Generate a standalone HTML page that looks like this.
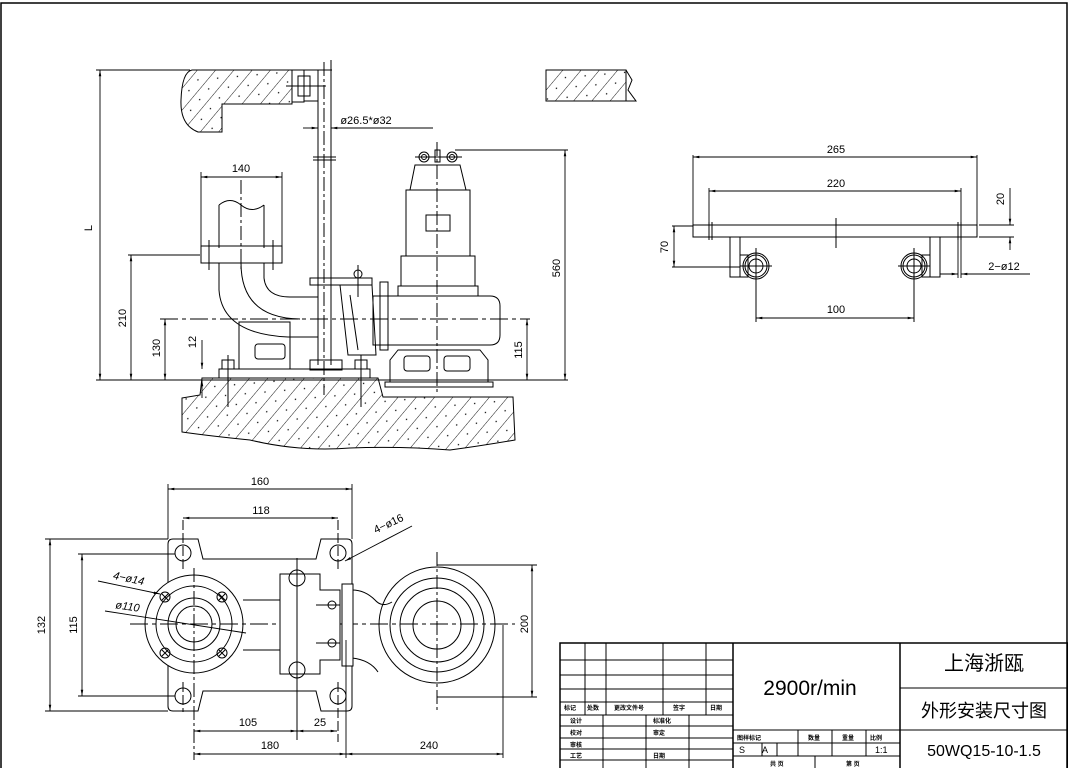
<!DOCTYPE html>
<html><head><meta charset="utf-8"><style>
html,body{margin:0;padding:0;background:#fff;}
svg{display:block;}
text{font-family:"Liberation Sans","Noto Sans CJK SC",sans-serif;fill:#000;}
</style></head><body>
<svg width="1068" height="768" viewBox="0 0 1068 768" xmlns="http://www.w3.org/2000/svg">
<defs>
<pattern id="h" width="14" height="14" patternUnits="userSpaceOnUse" patternTransform="rotate(40)">
<line x1="0" y1="0" x2="0" y2="14" stroke="#000" stroke-width="0.9"/>
<circle cx="7" cy="4" r="0.7" fill="#000"/>
</pattern>
<marker id="a" viewBox="0 0 10 10" refX="10" refY="5" markerWidth="7" markerHeight="7" orient="auto-start-reverse"><path d="M0,3 L10,5 L0,7 z" fill="#000"/></marker>
</defs>
<rect x="1" y="3" width="1066" height="770" fill="none" stroke="#000" stroke-width="1.5"/>
<g fill="none" stroke="#000" stroke-width="1">
<path d="M192,70 L292,70 L292,104 L222,104 L222,132 L198,132 Q180,125 181,100 Q182,72 192,70 Z" fill="url(#h)"/>
<rect x="546" y="70" width="80" height="31" fill="url(#h)"/>
<path d="M626,70 L632,80 L628,90 L636,101 L626,101"/>
<rect x="292" y="70" width="12" height="32"/>
<rect x="298" y="76" width="12" height="20"/>
<path d="M292,70 L332,70 M304,101 L318,101"/>
<line x1="286" y1="86" x2="326" y2="86"/>
<line x1="318" y1="70" x2="318" y2="365"/>
<line x1="331" y1="60" x2="331" y2="365"/>
<line x1="324" y1="62" x2="324" y2="395" stroke-dasharray="14,3,3,3"/>
<line x1="313" y1="157" x2="336" y2="157"/><line x1="313" y1="160" x2="336" y2="160"/>
<rect x="310" y="360" width="32" height="10"/>
<path d="M219,205 L219,248 M264,205 L264,248"/>
<path d="M219,205 Q230,196 241,205 Q252,214 264,205"/>
<line x1="241" y1="180" x2="241" y2="270" stroke-dasharray="14,3,3,3"/>
<rect x="201" y="246" width="81" height="17"/>
<line x1="209" y1="240" x2="209" y2="270"/><line x1="273" y1="240" x2="273" y2="270"/>
<path d="M264,263 L264,278 Q266,297 290,297 L318,297"/>
<path d="M219,263 L219,290 Q222,334 288,337 L318,337"/>
<path d="M241,263 Q241,318 300,319"/>
<rect x="239" y="322" width="51" height="47"/>
<rect x="255" y="344" width="30" height="15" rx="3"/>
<rect x="219" y="369" width="151" height="9"/>
<rect x="222" y="360" width="12" height="9"/><rect x="355" y="360" width="12" height="9"/>
<line x1="228" y1="355" x2="228" y2="407"/><line x1="361" y1="355" x2="361" y2="407"/>
<path d="M182,398 L200,395 L202,378 L378,378 L383,397 L513,397 L515,440 Q480,446 450,450 Q400,446 350,448 Q300,452 250,440 Q210,436 182,432 Z" fill="url(#h)"/>
<path d="M310,278 L372,278 L372,285 L310,285 Z"/>
<path d="M340,285 L372,285 L376,355 L348,355 Z"/>
<line x1="350" y1="295" x2="358" y2="350"/>
<circle cx="358" cy="274" r="4"/><line x1="358" y1="265" x2="358" y2="297"/>
<path d="M410,190 L415,165 L460,165 L466,190 Z"/>
<rect x="406" y="190" width="64" height="66"/>
<rect x="426" y="215" width="24" height="16"/>
<rect x="401" y="256" width="74" height="30"/>
<rect x="398" y="286" width="80" height="10"/>
<path d="M373,296 L490,296 Q500,296 500,306 L500,335 Q500,345 490,345 L373,345 Z"/>
<rect x="380" y="282" width="8" height="68"/>
<path d="M398,350 L390,360 L390,382 L488,382 L488,360 L480,350 Z"/>
<rect x="385" y="382" width="108" height="5"/>
<rect x="404" y="356" width="26" height="15" rx="3"/><rect x="444" y="356" width="26" height="15" rx="3"/>
<line x1="437" y1="142" x2="437" y2="395" stroke-dasharray="14,3,3,3"/>
<circle cx="424" cy="157" r="5"/><circle cx="424" cy="157" r="2.5"/>
<circle cx="452" cy="157" r="5"/><circle cx="452" cy="157" r="2.5"/>
<rect x="435" y="150" width="5" height="12"/>
<line x1="415" y1="157" x2="462" y2="157"/>
<line x1="160" y1="319" x2="530" y2="319" stroke-dasharray="18,4,4,4"/>
</g>
<g fill="none" stroke="#000" stroke-width="0.9">
<line x1="96" y1="70" x2="190" y2="70"/>
<line x1="100" y1="70" x2="100" y2="380" marker-start="url(#a)" marker-end="url(#a)"/>
<line x1="96" y1="380" x2="568" y2="380"/>
<line x1="128" y1="255" x2="200" y2="255"/>
<line x1="131" y1="255" x2="131" y2="380" marker-start="url(#a)" marker-end="url(#a)"/>
<line x1="165" y1="319" x2="165" y2="380" marker-start="url(#a)" marker-end="url(#a)"/>
<line x1="202" y1="340" x2="202" y2="369" marker-end="url(#a)"/>
<line x1="202" y1="398" x2="202" y2="380" marker-end="url(#a)"/>
<line x1="527" y1="319" x2="527" y2="380" marker-start="url(#a)" marker-end="url(#a)"/>
<line x1="455" y1="150" x2="568" y2="150"/>
<line x1="565" y1="150" x2="565" y2="380" marker-start="url(#a)" marker-end="url(#a)"/>
<line x1="201" y1="172" x2="201" y2="246"/><line x1="282" y1="172" x2="282" y2="246"/>
<line x1="201" y1="177" x2="282" y2="177" marker-start="url(#a)" marker-end="url(#a)"/>
<line x1="303" y1="128" x2="318" y2="128" marker-end="url(#a)"/>
<line x1="433" y1="128" x2="331" y2="128" marker-end="url(#a)"/>
</g>
<g font-size="11">
<text x="92" y="228" transform="rotate(-90 92 228)" text-anchor="middle">L</text>
<text x="126" y="318" transform="rotate(-90 126 318)" text-anchor="middle">210</text>
<text x="160" y="348" transform="rotate(-90 160 348)" text-anchor="middle">130</text>
<text x="196" y="342" transform="rotate(-90 196 342)" text-anchor="middle">12</text>
<text x="522" y="350" transform="rotate(-90 522 350)" text-anchor="middle">115</text>
<text x="560" y="268" transform="rotate(-90 560 268)" text-anchor="middle">560</text>
<text x="241" y="172" text-anchor="middle">140</text>
<text x="366" y="124" text-anchor="middle">ø26.5*ø32</text>
</g>
<g fill="none" stroke="#000" stroke-width="1">
<rect x="693" y="225" width="284" height="12"/>
<line x1="709" y1="222" x2="709" y2="240"/><line x1="712" y1="222" x2="712" y2="240"/>
<line x1="958" y1="222" x2="958" y2="240"/><line x1="961" y1="222" x2="961" y2="240"/>
<line x1="836" y1="218" x2="836" y2="248"/>
<rect x="730" y="237" width="10" height="40"/><rect x="740" y="255" width="8" height="22"/>
<rect x="930" y="237" width="10" height="40"/><rect x="922" y="255" width="8" height="22"/>
<circle cx="756" cy="266" r="13"/><circle cx="756" cy="266" r="11"/><circle cx="756" cy="266" r="7"/>
<circle cx="914" cy="266" r="13"/><circle cx="914" cy="266" r="11"/><circle cx="914" cy="266" r="7"/>
<line x1="756" y1="248" x2="756" y2="322"/><line x1="914" y1="248" x2="914" y2="322"/>
<line x1="740" y1="266" x2="772" y2="266"/><line x1="898" y1="266" x2="930" y2="266"/>
</g>
<g fill="none" stroke="#000" stroke-width="0.9">
<line x1="693" y1="155" x2="693" y2="225"/><line x1="977" y1="155" x2="977" y2="225"/>
<line x1="693" y1="157" x2="977" y2="157" marker-start="url(#a)" marker-end="url(#a)"/>
<line x1="709" y1="188" x2="709" y2="222"/><line x1="961" y1="188" x2="961" y2="222"/>
<line x1="709" y1="191" x2="961" y2="191" marker-start="url(#a)" marker-end="url(#a)"/>
<line x1="979" y1="225" x2="1014" y2="225"/><line x1="979" y1="237" x2="1014" y2="237"/>
<line x1="1010" y1="188" x2="1010" y2="225" marker-end="url(#a)"/>
<line x1="1010" y1="250" x2="1010" y2="237" marker-end="url(#a)"/>
<line x1="672" y1="226" x2="693" y2="226"/><line x1="672" y1="267" x2="740" y2="267"/>
<line x1="674" y1="226" x2="674" y2="267" marker-start="url(#a)" marker-end="url(#a)"/>
<line x1="756" y1="318" x2="914" y2="318" marker-start="url(#a)" marker-end="url(#a)"/>
<line x1="940" y1="274" x2="958" y2="274" marker-end="url(#a)"/>
<line x1="1030" y1="274" x2="961" y2="274" marker-end="url(#a)"/>
<line x1="958" y1="237" x2="958" y2="278"/><line x1="961" y1="237" x2="961" y2="278"/>
</g>
<g font-size="11">
<text x="836" y="153" text-anchor="middle">265</text>
<text x="836" y="187" text-anchor="middle">220</text>
<text x="1004" y="199" transform="rotate(-90 1004 199)" text-anchor="middle">20</text>
<text x="668" y="247" transform="rotate(-90 668 247)" text-anchor="middle">70</text>
<text x="836" y="313" text-anchor="middle">100</text>
<text x="1004" y="270" text-anchor="middle">2−ø12</text>
</g>
<g fill="none" stroke="#000" stroke-width="1">
<path d="M173,539 L198,539 L203,559 L316,559 L321,539 L347,539 Q352,539 352,544 L352,706 Q352,711 347,711 L321,711 L316,691 L203,691 L198,711 L173,711 Q168,711 168,706 L168,544 Q168,539 173,539 Z" fill="#fff"/>
<circle cx="183" cy="553" r="8"/><circle cx="338" cy="553" r="8"/><circle cx="183" cy="696" r="8"/><circle cx="338" cy="696" r="8"/>
<line x1="183" y1="520" x2="183" y2="570" stroke-dasharray="10,3"/><line x1="338" y1="520" x2="338" y2="570" stroke-dasharray="10,3"/>
<line x1="183" y1="682" x2="183" y2="712" stroke-dasharray="10,3"/><line x1="338" y1="682" x2="338" y2="742" stroke-dasharray="10,3"/>
<path d="M243,600 L280,600 M243,650 L280,650"/>
<circle cx="194" cy="624" r="49" fill="#fff"/><circle cx="194" cy="624" r="38"/><circle cx="194" cy="624" r="26"/><circle cx="194" cy="624" r="18"/>
<circle cx="165" cy="597" r="5"/><circle cx="222" cy="597" r="5"/><circle cx="165" cy="653" r="5"/><circle cx="222" cy="653" r="5"/>
<path d="M162,594 l6,6 m0,-6 l-6,6 M219,594 l6,6 m0,-6 l-6,6 M162,650 l6,6 m0,-6 l-6,6 M219,650 l6,6 m0,-6 l-6,6"/>
<line x1="194" y1="568" x2="194" y2="760" stroke-dasharray="14,3,3,3"/>
<line x1="130" y1="624" x2="515" y2="624" stroke-dasharray="18,4,4,4"/>
<path d="M280,574 L320,574 L320,590 L340,590 L340,660 L320,660 L320,674 L280,674 Z" fill="#fff"/>
<circle cx="297" cy="578" r="8"/><circle cx="297" cy="670" r="8"/>
<circle cx="332" cy="605" r="4"/><circle cx="332" cy="643" r="4"/>
<line x1="297" y1="558" x2="297" y2="740"/>
<line x1="316" y1="605" x2="340" y2="605"/><line x1="316" y1="643" x2="340" y2="643"/>
<path d="M352,590 Q365,590 375,600 Q382,608 392,602 M352,658 Q370,660 378,672"/>
<circle cx="437" cy="625" r="58"/>
<circle cx="437" cy="625" r="47"/><circle cx="437" cy="625" r="37"/><circle cx="437" cy="625" r="24"/>
<line x1="437" y1="552" x2="437" y2="710" stroke-dasharray="14,3,3,3"/>
<rect x="342" y="584" width="11" height="82" fill="#fff"/>
</g>
<g fill="none" stroke="#000" stroke-width="0.9">
<line x1="168" y1="484" x2="168" y2="539"/><line x1="352" y1="484" x2="352" y2="539"/>
<line x1="168" y1="489" x2="352" y2="489" marker-start="url(#a)" marker-end="url(#a)"/>
<line x1="183" y1="518" x2="338" y2="518" marker-start="url(#a)" marker-end="url(#a)"/>
<line x1="45" y1="539" x2="168" y2="539"/><line x1="45" y1="711" x2="168" y2="711"/>
<line x1="50" y1="539" x2="50" y2="711" marker-start="url(#a)" marker-end="url(#a)"/>
<line x1="78" y1="554" x2="175" y2="554"/><line x1="78" y1="696" x2="175" y2="696"/>
<line x1="82" y1="554" x2="82" y2="696" marker-start="url(#a)" marker-end="url(#a)"/>
<line x1="437" y1="565" x2="537" y2="565"/><line x1="437" y1="697" x2="537" y2="697"/>
<line x1="532" y1="565" x2="532" y2="697" marker-start="url(#a)" marker-end="url(#a)"/>
<line x1="194" y1="731" x2="297" y2="731" marker-start="url(#a)" marker-end="url(#a)"/>
<line x1="297" y1="731" x2="337" y2="731" marker-start="url(#a)" marker-end="url(#a)"/>
<line x1="346" y1="640" x2="346" y2="758"/><line x1="503" y1="625" x2="503" y2="758"/>
<line x1="194" y1="754" x2="346" y2="754" marker-start="url(#a)" marker-end="url(#a)"/>
<line x1="346" y1="754" x2="503" y2="754" marker-start="url(#a)" marker-end="url(#a)"/>
<line x1="412" y1="526" x2="345" y2="561" marker-end="url(#a)"/>
<line x1="98" y1="581" x2="160" y2="594" marker-end="url(#a)"/>
<line x1="105" y1="611" x2="246" y2="633"/>
</g>
<g font-size="11">
<text x="260" y="485" text-anchor="middle">160</text>
<text x="261" y="514" text-anchor="middle">118</text>
<text x="45" y="625" transform="rotate(-90 45 625)" text-anchor="middle">132</text>
<text x="77" y="625" transform="rotate(-90 77 625)" text-anchor="middle">115</text>
<text x="528" y="624" transform="rotate(-90 528 624)" text-anchor="middle">200</text>
<text x="248" y="726" text-anchor="middle">105</text>
<text x="320" y="726" text-anchor="middle">25</text>
<text x="270" y="749" text-anchor="middle">180</text>
<text x="429" y="749" text-anchor="middle">240</text>
<text x="390" y="527" transform="rotate(-25 390 527)" text-anchor="middle">4−ø16</text>
<text x="128" y="582" transform="rotate(12 128 582)" text-anchor="middle" font-style="italic">4−ø14</text>
<text x="127" y="610" transform="rotate(8 127 610)" text-anchor="middle" font-style="italic">ø110</text>
</g>
<g fill="none" stroke="#000" stroke-width="1">
<rect x="560" y="643" width="508" height="126" stroke-width="1.5"/>
<line x1="733" y1="643" x2="733" y2="768" stroke-width="1.5"/>
<line x1="900" y1="643" x2="900" y2="768" stroke-width="1.5"/>
<line x1="900" y1="688" x2="1068" y2="688"/>
<line x1="900" y1="730" x2="1068" y2="730"/>
<line x1="560" y1="660" x2="733" y2="660"/><line x1="560" y1="675" x2="733" y2="675"/>
<line x1="560" y1="689" x2="733" y2="689"/><line x1="560" y1="702" x2="733" y2="702"/>
<line x1="560" y1="715" x2="733" y2="715"/><line x1="560" y1="726" x2="733" y2="726"/>
<line x1="560" y1="738" x2="733" y2="738"/><line x1="560" y1="749" x2="733" y2="749"/>
<line x1="560" y1="760" x2="733" y2="760"/>
<line x1="585" y1="643" x2="585" y2="715"/><line x1="606" y1="643" x2="606" y2="715"/>
<line x1="663" y1="643" x2="663" y2="715"/><line x1="706" y1="643" x2="706" y2="715"/>
<line x1="603" y1="715" x2="603" y2="768"/><line x1="646" y1="715" x2="646" y2="768"/>
<line x1="689" y1="715" x2="689" y2="768"/>
<line x1="733" y1="730" x2="900" y2="730"/><line x1="733" y1="743" x2="900" y2="743"/>
<line x1="733" y1="756" x2="900" y2="756"/>
<line x1="762" y1="743" x2="762" y2="756"/><line x1="777" y1="743" x2="777" y2="756"/>
<line x1="798" y1="730" x2="798" y2="756"/><line x1="832" y1="730" x2="832" y2="756"/>
<line x1="866" y1="730" x2="866" y2="756"/><line x1="815" y1="756" x2="815" y2="768"/>
</g>
<g font-size="6" font-weight="bold">
<text x="564" y="710">标记</text><text x="587" y="710">处数</text><text x="614" y="710">更改文件号</text><text x="673" y="710">签字</text><text x="710" y="710">日期</text>
<text x="570" y="723">设计</text><text x="653" y="723">标准化</text>
<text x="570" y="735">校对</text><text x="653" y="735">审定</text>
<text x="570" y="747">审核</text>
<text x="570" y="758">工艺</text><text x="653" y="758">日期</text>
<text x="737" y="740">图样标记</text><text x="808" y="740">数量</text><text x="842" y="740">重量</text><text x="870" y="740">比例</text>
<text x="770" y="766">共 页</text><text x="846" y="766">第 页</text>
</g>
<g font-size="9"><text x="739" y="753">S</text><text x="762" y="753">A</text><text x="875" y="753">1:1</text></g>
<text x="810" y="695" font-size="21" text-anchor="middle" font-family="'DejaVu Sans','Liberation Sans',sans-serif" font-weight="200">2900r/min</text>
<text x="984" y="670" font-size="20" text-anchor="middle" fill="#333">上海浙瓯</text>
<text x="984" y="717" font-size="18" text-anchor="middle">外形安装尺寸图</text>
<text x="984" y="756" font-size="16" text-anchor="middle">50WQ15-10-1.5</text>
</svg>
</body></html>
